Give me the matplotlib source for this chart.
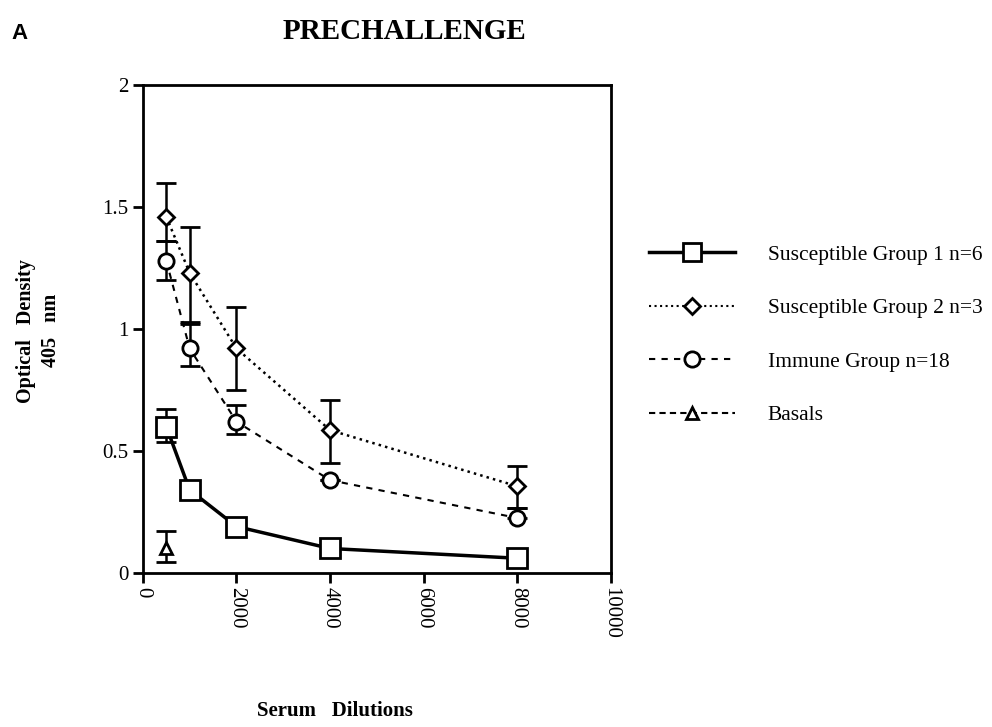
import matplotlib
matplotlib.use('Agg')
import matplotlib.pyplot as plt
from matplotlib.lines import Line2D
import numpy as np

serif = 'Liberation Serif'

# Data
dilutions = [500, 1000, 2000, 4000, 8000]

sus1 = [0.60, 0.34, 0.19, 0.10, 0.06]
sus1_lo = [0.065, 0, 0, 0, 0]
sus1_hi = [0.07, 0, 0, 0, 0]

sus2 = [1.46, 1.23, 0.92, 0.585, 0.355]
sus2_lo = [0.10, 0.20, 0.17, 0.135, 0.09]
sus2_hi = [0.14, 0.19, 0.17, 0.125, 0.085]

immune = [1.28, 0.92, 0.62, 0.38, 0.225]
immune_lo = [0.08, 0.07, 0.05, 0.0, 0.0]
immune_hi = [0.08, 0.10, 0.07, 0.0, 0.04]

basal_x = [500]
basal = [0.10]
basal_lo = [0.055]
basal_hi = [0.07]

labels = ['Susceptible Group 1 n=6', 'Susceptible Group 2 n=3',
          'Immune Group n=18', 'Basals']

fig = plt.figure(figsize=(9.92, 7.27), dpi=100)
ax = fig.add_axes([0.144, 0.212, 0.472, 0.671])

common = dict(color='black', ecolor='black', elinewidth=1.8, capsize=7,
              capthick=1.8, markerfacecolor='white', markeredgecolor='black',
              markeredgewidth=2)

ax.errorbar(dilutions, sus1, yerr=[sus1_lo, sus1_hi], fmt='-', marker='s',
            markersize=15, linewidth=2.5, zorder=4, **common)
ax.errorbar(dilutions, sus2, yerr=[sus2_lo, sus2_hi], fmt=':', marker='D',
            markersize=8, linewidth=1.8, zorder=3, **common)
ax.errorbar(dilutions, immune, yerr=[immune_lo, immune_hi], fmt='--',
            marker='o', markersize=11, linewidth=1.5, dashes=(3, 3), zorder=3,
            **common)
ax.errorbar(basal_x, basal, yerr=[basal_lo, basal_hi], fmt='--', marker='^',
            markersize=9, linewidth=1.5, zorder=3, **common)

ax.set_xlim(0, 10000)
ax.set_ylim(0, 2)
ax.set_xticks([0, 2000, 4000, 6000, 8000, 10000])
ax.set_yticks([0, 0.5, 1, 1.5, 2])
ax.set_yticklabels(['0', '0.5', '1', '1.5', '2'])
for s in ax.spines.values():
    s.set_linewidth(2)
ax.tick_params(direction='out', length=7, width=2, labelsize=15)
for t in ax.get_xticklabels():
    t.set_rotation(-90)
    t.set_fontfamily(serif)
for t in ax.get_yticklabels():
    t.set_fontfamily(serif)

# legend
handles = [
    Line2D([], [], color='black', lw=2.5, marker='s', markersize=13,
           markerfacecolor='white', markeredgewidth=2),
    Line2D([], [], color='black', lw=1.5, ls=':', marker='D', markersize=8,
           markerfacecolor='white', markeredgewidth=2),
    Line2D([], [], color='black', lw=1.5, ls=(0, (3, 3)), marker='o',
           markersize=11, markerfacecolor='white', markeredgewidth=2),
    Line2D([], [], color='black', lw=1.5, ls=(0, (3, 2)), marker='^',
           markersize=9, markerfacecolor='white', markeredgewidth=2),
]
fig.legend(handles, labels, loc='upper left', bbox_to_anchor=(0.635, 0.69),
           frameon=False, handlelength=4.0, handletextpad=1.5,
           labelspacing=1.55, prop={'family': serif, 'size': 15.5})

fig.text(0.012, 0.968, 'A', fontsize=16, fontweight='bold',
         family='Liberation Sans', va='top')
fig.text(0.408, 0.975, 'PRECHALLENGE', fontsize=21, fontweight='bold',
         family=serif, ha='center', va='top')
fig.text(0.039, 0.545, 'Optical   Density\n405   nm', rotation=90,
         fontsize=14.5, fontweight='bold', family=serif, ha='center',
         va='center', multialignment='center', linespacing=1.35)
fig.text(0.338, 0.008, 'Serum   Dilutions', fontsize=15, fontweight='bold',
         family=serif, ha='center', va='bottom')

fig.savefig('out.png', dpi=100, facecolor='white')
